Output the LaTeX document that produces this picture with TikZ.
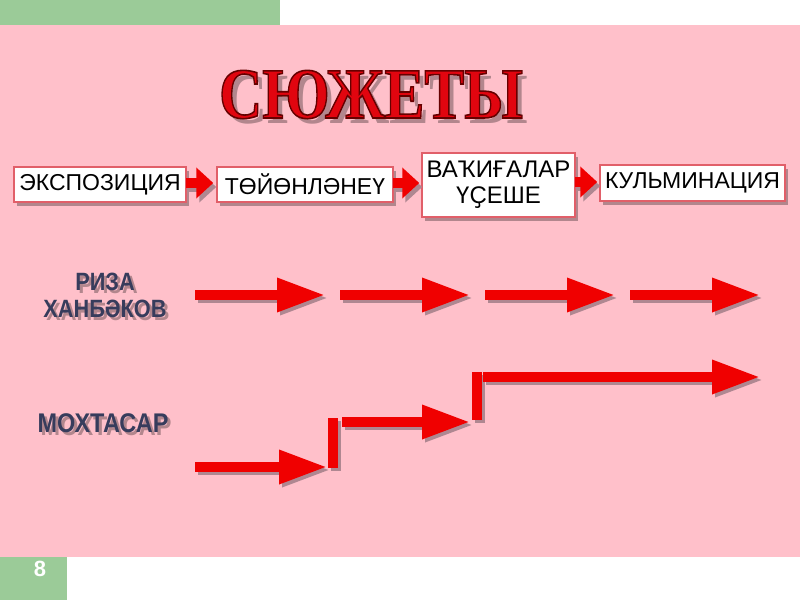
\documentclass[tikz,border=0pt]{standalone}
\usepackage{fontspec}
\setmainfont{Liberation Serif}
\newfontfamily\sansf{Liberation Sans}
\usetikzlibrary{arrows.meta,shadows}
\definecolor{bgpink}{RGB}{255,192,202}
\definecolor{bargreen}{RGB}{155,203,152}
\definecolor{arrred}{RGB}{240,0,0}
\definecolor{titlered}{RGB}{225,5,15}
\definecolor{boxedge}{RGB}{225,95,105}
\definecolor{labelblue}{RGB}{55,60,92}
\definecolor{shadowc}{RGB}{175,135,145}
\newcommand\outlinetext[1]{\special{pdf:literal direct 2 Tr 1.6 w 0.4 0 0 RG}#1\special{pdf:literal direct 0 Tr}}
\begin{document}
\begin{tikzpicture}[x=1pt,y=-1pt,
  box/.style={draw=boxedge,line width=1.5pt,fill=white,inner sep=0pt,
    font=\sansf\fontsize{23}{25}\selectfont,
    drop shadow={shadow xshift=3pt,shadow yshift=-4pt,fill=black,opacity=.3}},
  bigarrow/.style={draw=arrred,line width=9.5pt,-{Triangle[length=48pt,width=32pt]}},
  bigshadow/.style={draw=shadowc,line width=9.5pt,-{Triangle[length=48pt,width=32pt]},
    transform canvas={shift={(3,3)}}},
  stair/.style={draw=arrred,line width=9.5pt},
  stairshadow/.style={draw=shadowc,line width=9.5pt,transform canvas={shift={(3,3)}}},
  smallarrow/.style={draw=arrred,line width=10pt,-{Triangle[length=17pt,width=30pt]}},
  smallshadow/.style={draw=shadowc,line width=10pt,-{Triangle[length=17pt,width=30pt]},
    transform canvas={shift={(3,4)}}},
  titletext/.style={font=\bfseries\fontsize{72}{72}\selectfont,anchor=base,inner sep=0pt},
  lbl/.style={font=\sansf\bfseries,text=labelblue,align=center,inner sep=0pt},
  lblshadow/.style={font=\sansf\bfseries,text=black,opacity=.3,align=center,inner sep=0pt}
]
\useasboundingbox (0,0) rectangle (800,600);
% background
\fill[white] (0,0) rectangle (800,600);
\fill[bargreen] (0,0) rectangle (280,25);
\fill[bgpink] (0,25) rectangle (800,557);
\fill[bargreen] (0,557) rectangle (67,600);
\node[text=white,font=\sansf\bfseries\fontsize{22}{22}\selectfont] (pg) at (40,569) {8};

% title
\node[titletext,text=black,opacity=.3] (tsh) at (376,123) {\scalebox{0.83}[1]{СЮЖЕТЫ}};
\node[titletext,text=titlered] (title) at (371,118) {\scalebox{0.83}[1]{\outlinetext{СЮЖЕТЫ}}};

% boxes
\node[box,minimum width=172pt,minimum height=35pt] (b1) at (100,184.5) {ЭКСПОЗИЦИЯ};
\node[box,minimum width=176pt,minimum height=35pt] (b2) at (305,184.5) {ТӨЙӨНЛӘНЕҮ};
\node[box,minimum width=153pt,minimum height=64pt,align=center,
      font=\sansf\fontsize{24}{26}\selectfont] (b3) at (498.5,185) {ВАҠИҒАЛАР\\ҮҪЕШЕ};
\node[box,minimum width=185pt,minimum height=36pt] (b4) at (692.5,183) {КУЛЬМИНАЦИЯ};

\coordinate (a1s) at (186,183);
\coordinate (a2s) at (393,183);
\coordinate (a3s) at (575,182);
\draw[smallshadow] (a1s) -- ([xshift=-3pt]a1s -| b2.west);
\draw[smallarrow] (a1s) -- ([xshift=-3pt]a1s -| b2.west);
\draw[smallshadow] (a2s) -- ([xshift=-2pt]a2s -| b3.west);
\draw[smallarrow] (a2s) -- ([xshift=-2pt]a2s -| b3.west);
\draw[smallshadow] (a3s) -- ([xshift=-2pt]a3s -| b4.west);
\draw[smallarrow] (a3s) -- ([xshift=-2pt]a3s -| b4.west);

% labels
\node[lblshadow,font=\sansf\bfseries\fontsize{25}{27}\selectfont] (l1s) at (108,298) {\scalebox{0.87}[1]{РИЗА}\\\scalebox{0.87}[1]{ХАНБӘКОВ}};
\node[lbl,font=\sansf\bfseries\fontsize{25}{27}\selectfont] (l1) at (105,295) {\scalebox{0.87}[1]{РИЗА}\\\scalebox{0.87}[1]{ХАНБӘКОВ}};
\node[lblshadow,font=\sansf\bfseries\fontsize{27}{27}\selectfont] (l2s) at (106,426) {\scalebox{0.87}[1]{МОХТАСАР}};
\node[lbl,font=\sansf\bfseries\fontsize{27}{27}\selectfont] (l2) at (103,423) {\scalebox{0.87}[1]{МОХТАСАР}};

% row 2 arrows
\foreach \s/\e [count=\i] in {195/325,340/470,485/615,630/760}{
  \coordinate (rs\i) at (\s,295);
  \coordinate (re\i) at (\e,295);
  \draw[bigshadow] (rs\i) -- (re\i);
  \draw[bigarrow] (rs\i) -- (re\i);
}

% row 3 staircase
\coordinate (m1s) at (195,467);
\coordinate (m1e) at (327,467);
\coordinate (v1t) at (333,418);
\coordinate (v1b) at (333,468);
\coordinate (m2s) at (342,422);
\coordinate (m2e) at (470,422);
\coordinate (v2t) at (477,372);
\coordinate (v2b) at (477,420);
\coordinate (m3s) at (483,377);
\coordinate (m3e) at (760,377);
\draw[stairshadow] (v1t) -- (v1b);
\draw[stairshadow] (v2t) -- (v2b);
\draw[bigshadow] (m1s) -- (m1e);
\draw[bigshadow] (m2s) -- (m2e);
\draw[bigshadow] (m3s) -- (m3e);
\draw[stair] (v1t) -- (v1b);
\draw[stair] (v2t) -- (v2b);
\draw[bigarrow] (m1s) -- (m1e);
\draw[bigarrow] (m2s) -- (m2e);
\draw[bigarrow] (m3s) -- (m3e);
\end{tikzpicture}
\end{document}
